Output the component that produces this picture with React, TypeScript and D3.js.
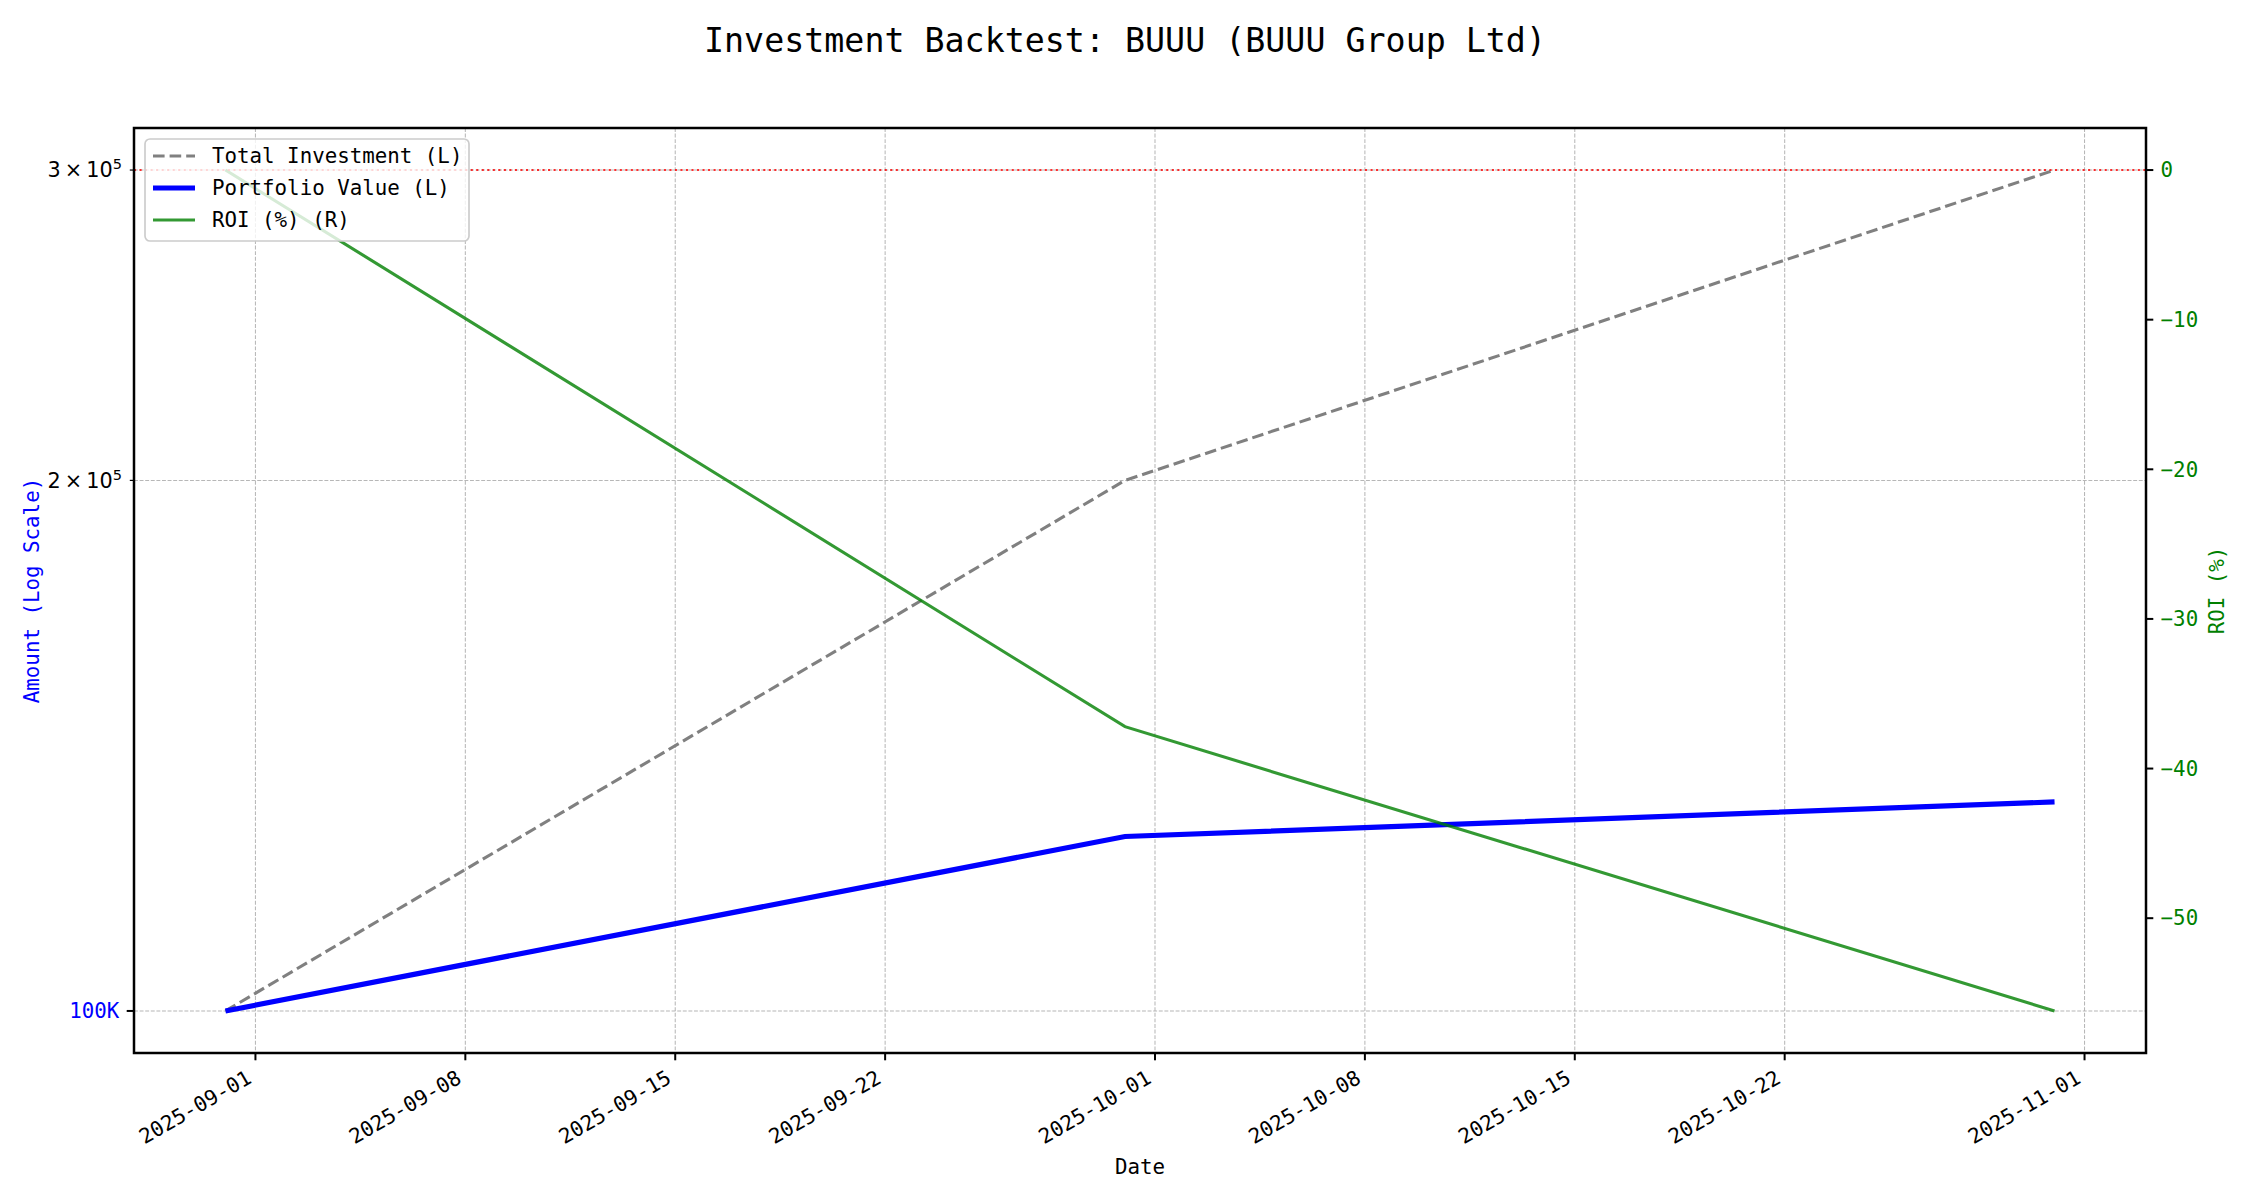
import React from "react";
import * as d3 from "d3";

const dates = ["2025-08-31", "2025-09-30", "2025-10-31"];
const totalInvestment = [100000, 200000, 300000];
const portfolioValue = [100000, 125600, 131400];
const roiPct = [0, -37.2, -56.2];
const xTickDates = [
  "2025-09-01", "2025-09-08", "2025-09-15", "2025-09-22",
  "2025-10-01", "2025-10-08", "2025-10-15", "2025-10-22", "2025-11-01",
];
const leftMajorTicks = [100000];
const leftMajorLabels = ["100K"];
const leftMinorTicks = [200000, 300000];
const leftMinorMant = ["2", "3"];
const rightTicks = [0, -10, -20, -30, -40, -50];
const legendItems = ["Total Investment (L)", "Portfolio Value (L)", "ROI (%) (R)"];

const W = 2250, H = 1200;
const L = 134, R = 2146, T = 128, B = 1053;
const MONO = "'DejaVu Sans Mono', monospace";
const SANS = "'DejaVu Sans', sans-serif";
const FS = 20.8;

export default function App() {
  const parse = (s: string) => new Date(s + "T00:00:00Z");
  const dd = dates.map(parse);
  const t0 = +dd[0], t1 = +dd[dd.length - 1];
  const pad = (t1 - t0) * 0.05;
  const x = d3.scaleUtc().domain([new Date(t0 - pad), new Date(t1 + pad)]).range([L, R]);

  const allL = [...totalInvestment, ...portfolioValue];
  const lo = Math.log10(d3.min(allL)!), hi = Math.log10(d3.max(allL)!);
  const lp = (hi - lo) * 0.05;
  const yL = d3.scaleLog().domain([Math.pow(10, lo - lp), Math.pow(10, hi + lp)]).range([B, T]);

  const rmin = d3.min(roiPct)!, rmax = d3.max(roiPct)!;
  const rp = (rmax - rmin) * 0.05;
  const yR = d3.scaleLinear().domain([rmin - rp, rmax + rp]).range([B, T]);

  const lineL = d3.line<number>().x((_, i) => x(dd[i])).y((v) => yL(v));
  const lineR = d3.line<number>().x((_, i) => x(dd[i])).y((v) => yR(v));

  const gridStyle = { stroke: "#b0b0b0", strokeWidth: 1.04, strokeDasharray: "3.9 1.7", opacity: 0.9 };

  return (
    <svg width={W} height={H} style={{ position: "absolute", left: 0, top: 0, background: "#fff" }}>
      <rect x={0} y={0} width={W} height={H} fill="#fff" />
      <text x={1125} y={52} textAnchor="middle" fontFamily={MONO} fontSize={33.3} fill="#000">
        Investment Backtest: BUUU (BUUU Group Ltd)
      </text>
      <defs>
        <clipPath id="plot">
          <rect x={L} y={T} width={R - L} height={B - T} />
        </clipPath>
      </defs>
      {/* grid */}
      <g>
        {xTickDates.map((d) => (
          <line key={d} x1={x(parse(d))} x2={x(parse(d))} y1={T} y2={B} {...gridStyle} />
        ))}
        {[...leftMajorTicks, ...leftMinorTicks].map((v) => (
          <line key={v} x1={L} x2={R} y1={yL(v)} y2={yL(v)} {...gridStyle} />
        ))}
      </g>
      <g clipPath="url(#plot)">
        <path d={lineL(totalInvestment)!} fill="none" stroke="#808080" strokeWidth={3.1} strokeDasharray="11.6 5" />
        <path d={lineL(portfolioValue)!} fill="none" stroke="#0000ff" strokeWidth={5.2} />
        <path d={lineR(roiPct)!} fill="none" stroke="#008000" strokeOpacity={0.8} strokeWidth={3.1} />
        <line x1={L} x2={R} y1={yR(0)} y2={yR(0)} stroke="#ff0000" strokeOpacity={0.8} strokeWidth={2.08} strokeDasharray="2.08 3.44" />
      </g>
      {/* spines */}
      <rect x={L} y={T} width={R - L} height={B - T} fill="none" stroke="#000" strokeWidth={2.5} />
      {/* x ticks */}
      {xTickDates.map((d) => {
        const xx = x(parse(d));
        return (
          <g key={d}>
            <line x1={xx} x2={xx} y1={B} y2={B + 7.3} stroke="#000" strokeWidth={2} />
            <text
              x={xx - 2.5}
              y={1082}
              textAnchor="end"
              fontFamily={MONO}
              fontSize={FS}
              transform={`rotate(-30, ${xx - 2.5}, 1082)`}
            >
              {d}
            </text>
          </g>
        );
      })}
      <text x={(L + R) / 2} y={1174} textAnchor="middle" fontFamily={MONO} fontSize={FS}>Date</text>
      {/* left ticks */}
      {leftMajorTicks.map((v, i) => (
        <g key={v}>
          <line x1={L - 7.3} x2={L} y1={yL(v)} y2={yL(v)} stroke="#000" strokeWidth={2} />
          <text x={L - 14.6} y={yL(v)} dy="0.35em" textAnchor="end" fontFamily={MONO} fontSize={FS} fill="#0000ff">
            {leftMajorLabels[i]}
          </text>
        </g>
      ))}
      {leftMinorTicks.map((v, i) => (
        <g key={v}>
          <line x1={L - 4.2} x2={L} y1={yL(v)} y2={yL(v)} stroke="#000" strokeWidth={1.2} />
          <text x={L - 12} y={yL(v)} dy="0.35em" textAnchor="end" fontFamily={SANS} fontSize={FS} fill="#000">
            {leftMinorMant[i]}
            <tspan dx={4}>×</tspan>
            <tspan dx={4}>10</tspan>
            <tspan fontSize={FS * 0.7} dy={-8}>5</tspan>
          </text>
        </g>
      ))}
      <text
        x={32}
        y={(T + B) / 2}
        textAnchor="middle"
        dy="0.35em"
        fontFamily={MONO}
        fontSize={FS}
        fill="#0000ff"
        transform={`rotate(-90, 32, ${(T + B) / 2})`}
      >
        Amount (Log Scale)
      </text>
      {/* right ticks */}
      {rightTicks.map((v) => (
        <g key={v}>
          <line x1={R} x2={R + 7.3} y1={yR(v)} y2={yR(v)} stroke="#000" strokeWidth={2} />
          <text x={R + 14.6} y={yR(v)} dy="0.35em" textAnchor="start" fontFamily={MONO} fontSize={FS} fill="#008000">
            {v < 0 ? "\u2212" + Math.abs(v) : String(v)}
          </text>
        </g>
      ))}
      <text
        x={2217}
        y={(T + B) / 2}
        textAnchor="middle"
        dy="0.35em"
        fontFamily={MONO}
        fontSize={FS}
        fill="#008000"
        transform={`rotate(-90, 2217, ${(T + B) / 2})`}
      >
        ROI (%)
      </text>
      {/* legend */}
      <g>
        <rect x={145} y={139} width={324} height={102} rx={5} fill="#fff" fillOpacity={0.8} stroke="#cccccc" strokeWidth={1.67} />
        {legendItems.map((s, i) => {
          const yy = 156 + i * 32;
          const st =
            i === 0
              ? { stroke: "#808080", strokeWidth: 3.1, strokeDasharray: "11.6 5" }
              : i === 1
              ? { stroke: "#0000ff", strokeWidth: 5.2 }
              : { stroke: "#008000", strokeOpacity: 0.8, strokeWidth: 3.1 };
          return (
            <g key={s}>
              <line x1={153} x2={195} y1={yy} y2={yy} {...st} />
              <text x={212} y={yy} dy="0.35em" fontFamily={MONO} fontSize={FS}>{s}</text>
            </g>
          );
        })}
      </g>
    </svg>
  );
}
